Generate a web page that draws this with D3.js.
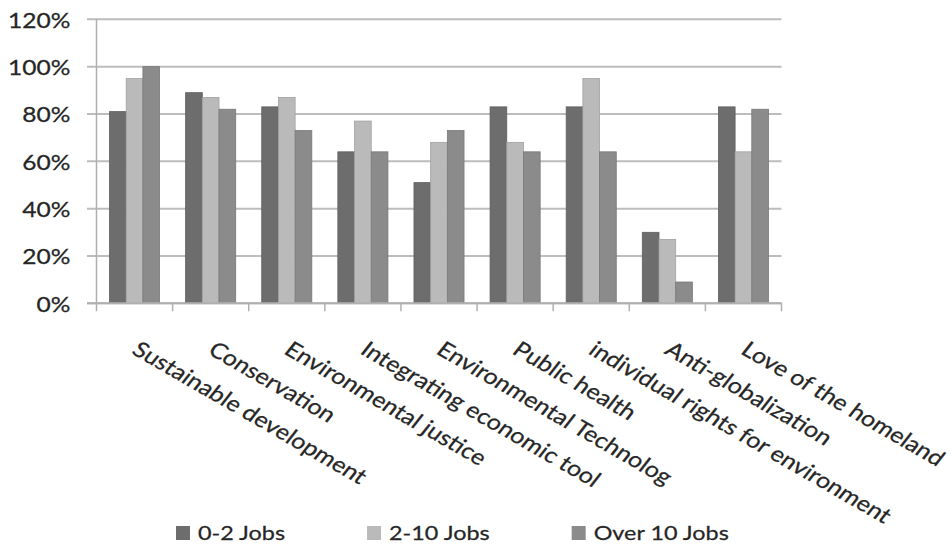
<!DOCTYPE html>
<html>
<head>
<meta charset="utf-8">
<script src="https://cdn.jsdelivr.net/npm/d3@7/dist/d3.min.js"></script>
<style>
  html, body { margin: 0; padding: 0; background: #fff; }
  svg { display: block; }
  text { font-family: Lato, "Open Sans", sans-serif; fill: #262626; stroke: #262626; stroke-width: 0.25; }
</style>
</head>
<body>
<svg id="chart" width="951" height="549"></svg>
<script>
// Categories along the x axis
const categories = [
  "Sustainable development",
  "Conservation",
  "Environmental justice",
  "Integrating economic tool",
  "Environmental Technolog",
  "Public health",
  "individual rights for environment",
  "Anti-globalization",
  "Love of the homeland"
];

// Series names and their values (share of respondents)
const seriesNames = ["0-2 Jobs", "2-10 Jobs", "Over 10 Jobs"];
const jobs0to2   = [0.81, 0.89, 0.83, 0.64, 0.51, 0.83, 0.83, 0.30, 0.83];
const jobs2to10  = [0.95, 0.87, 0.87, 0.77, 0.68, 0.68, 0.95, 0.27, 0.64];
const jobsOver10 = [1.00, 0.82, 0.73, 0.64, 0.73, 0.64, 0.64, 0.09, 0.82];
const seriesValues = [jobs0to2, jobs2to10, jobsOver10];

// Y axis tick values
const yTicks = [0, 0.2, 0.4, 0.6, 0.8, 1.0, 1.2];

const colors = ["#6d6d6d", "#bababa", "#8b8b8b"];
const textStretch = 1.17;   // horizontal stretch of the glyphs

const svg = d3.select("#chart");

const x = d3.scaleBand().domain(categories).range([96.5, 781.5]).padding(0);
const xs = d3.scaleBand().domain(seriesNames).range([0, x.bandwidth()])
  .paddingInner(0).paddingOuter(0.78);
const y = d3.scaleLinear().domain([0, 1.2]).range([303.3, 19.3]);

// Horizontal gridlines
svg.append("g")
  .selectAll("line")
  .data(yTicks)
  .join("line")
  .attr("x1", 87).attr("x2", 781.5)
  .attr("y1", d => y(d)).attr("y2", d => y(d))
  .attr("stroke", "#bdbdbd")
  .attr("stroke-width", 2);

// Y tick labels
svg.append("g")
  .selectAll("text")
  .data(yTicks)
  .join("text")
  .attr("transform", d => `translate(70.5,${y(d)}) scale(${textStretch},1)`)
  .attr("text-anchor", "end")
  .attr("dominant-baseline", "central")
  .attr("font-size", 21)
  .text(d => d3.format(".0%")(d));

// Bars
const rows = categories.map((c, i) => ({ c, vals: seriesValues.map((s, k) => ({ name: seriesNames[k], v: s[i], k })) }));
const groups = svg.append("g")
  .selectAll("g")
  .data(rows)
  .join("g")
  .attr("transform", d => `translate(${x(d.c)},0)`);

groups.selectAll("rect")
  .data(d => d.vals)
  .join("rect")
  .attr("x", d => xs(d.name))
  .attr("width", xs.bandwidth())
  .attr("y", d => y(d.v))
  .attr("height", d => y(0) - y(d.v))
  .attr("fill", d => colors[d.k])
  .attr("stroke", d => d3.color(colors[d.k]).darker(0.4))
  .attr("stroke-width", 0.8);

// Axis lines and ticks
const axisColor = "#b0b0b0";
svg.append("line")
  .attr("x1", 96.5).attr("x2", 96.5)
  .attr("y1", y(1.2)).attr("y2", y(0) + 8)
  .attr("stroke", axisColor).attr("stroke-width", 1.5);
svg.append("line")
  .attr("x1", 87).attr("x2", 781.5)
  .attr("y1", y(0)).attr("y2", y(0))
  .attr("stroke", axisColor).attr("stroke-width", 2);
const boundaries = categories.map(c => x(c)).concat([x(categories[categories.length - 1]) + x.bandwidth()]);
svg.append("g")
  .selectAll("line")
  .data(boundaries.slice(1))
  .join("line")
  .attr("x1", d => d).attr("x2", d => d)
  .attr("y1", y(0)).attr("y2", y(0) + 8)
  .attr("stroke", axisColor).attr("stroke-width", 1.5);

// Rotated category labels
svg.append("g")
  .selectAll("text")
  .data(categories)
  .join("text")
  .attr("transform", d => `translate(${x(d) + x.bandwidth() / 2 - 4},353) scale(${textStretch},1) rotate(34)`)
  .attr("font-size", 21.5)
  .text(d => d);

// Legend
const legend = svg.append("g");
let lx = 176;
seriesNames.forEach((name, k) => {
  legend.append("rect")
    .attr("x", lx).attr("y", 526)
    .attr("width", 14).attr("height", 14)
    .attr("fill", colors[k]);
  const t = legend.append("text")
    .attr("transform", `translate(${lx + 22},533) scale(${textStretch},1)`)
    .attr("dominant-baseline", "central")
    .attr("font-size", 20)
    .text(name);
  const w = t.node().getComputedTextLength() * textStretch;
  lx = lx + 22 + w + 82;
});
</script>
</body>
</html>
